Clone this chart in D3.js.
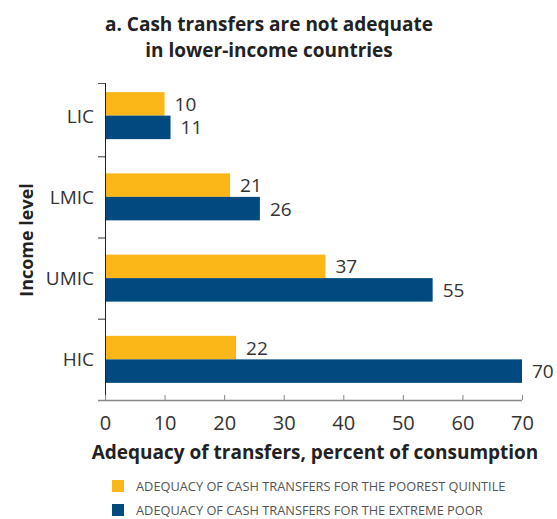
<!DOCTYPE html>
<html>
<head>
  <script src="https://cdn.jsdelivr.net/npm/d3@7"></script>
  <style>
    body { margin: 0; background: #fff; }
    text { font-family: "Open Sans", "Liberation Sans", sans-serif; }
  </style>
</head>
<body>
  <svg id="chart" width="557" height="519"></svg>
  <script>
  // data
  const categories = ['LIC', 'LMIC', 'UMIC', 'HIC'];
  const poorestQuintile = [10, 21, 37, 22];
  const extremePoor = [11, 26, 55, 70];
  const seriesNames = [
    'ADEQUACY OF CASH TRANSFERS FOR THE POOREST QUINTILE',
    'ADEQUACY OF CASH TRANSFERS FOR THE EXTREME POOR'
  ];
  const xTicks = [0, 10, 20, 30, 40, 50, 60, 70];

  const colors = ['#FBB618', '#004A80'];
  const svg = d3.select('#chart');

  const x = d3.scaleLinear().domain([0, 70]).range([105, 522]);
  const y = d3.scaleBand().domain(categories).range([75, 400]).paddingInner(0).paddingOuter(0);
  const barH = 23.5;

  // title
  svg.append('text').attr('x', 269).attr('y', 31).attr('text-anchor', 'middle')
    .attr('font-size', 19).attr('font-weight', 700).attr('fill', '#222')
    .text('a. Cash transfers are not adequate');
  svg.append('text').attr('x', 269).attr('y', 57).attr('text-anchor', 'middle')
    .attr('font-size', 19).attr('font-weight', 700).attr('fill', '#222')
    .text('in lower-income countries');

  // bars
  const rows = categories.map((c, i) => ({ c, vals: [poorestQuintile[i], extremePoor[i]] }));
  const g = svg.append('g');
  rows.forEach(r => {
    const mid = y(r.c) + y.bandwidth() / 2;
    r.vals.forEach((v, k) => {
      const top = mid - barH + k * barH;
      g.append('rect').attr('x', x(0)).attr('y', top)
        .attr('width', x(v) - x(0)).attr('height', barH).attr('fill', colors[k]);
      g.append('text').attr('x', x(v) + 10).attr('y', top + barH / 2 + 7)
        .attr('font-size', 19).attr('fill', '#333').text(v);
    });
    svg.append('text').attr('x', 94).attr('y', mid + 7).attr('text-anchor', 'end')
      .attr('font-size', 19).attr('fill', '#333').text(r.c);
  });

  // y axis
  svg.append('line').attr('x1', 105.5).attr('x2', 105.5).attr('y1', 83).attr('y2', 400)
    .attr('stroke', '#222').attr('stroke-width', 1);
  svg.append('line').attr('x1', 98).attr('x2', 105).attr('y1', 83.5).attr('y2', 83.5)
    .attr('stroke', '#555');
  categories.slice(1).forEach(c => {
    svg.append('line').attr('x1', 98).attr('x2', 105).attr('y1', y(c) + 0.5).attr('y2', y(c) + 0.5)
      .attr('stroke', '#777').attr('stroke-width', 1.5);
  });

  // x axis
  const xAxis = d3.axisBottom(x).tickValues(xTicks).tickSize(5).tickSizeOuter(0).tickPadding(6);
  const xg = svg.append('g').attr('transform', 'translate(0,400)').call(xAxis);
  xg.select('.domain').attr('d', 'M98,0.5H522').attr('stroke', '#888').attr('stroke-width', 1.5);
  xg.selectAll('.tick line').attr('stroke', '#888').attr('y1', -5).attr('y2', 0);
  xg.selectAll('.tick text').attr('font-size', 20).attr('fill', '#333')
    .attr('font-family', '"Open Sans", sans-serif').attr('dy', null).attr('y', 30);

  // axis titles
  svg.append('text').attr('x', 315).attr('y', 459).attr('text-anchor', 'middle')
    .attr('font-size', 19).attr('font-weight', 700).attr('fill', '#222')
    .text('Adequacy of transfers, percent of consumption');
  svg.append('text').attr('transform', 'translate(33,240) rotate(-90)').attr('text-anchor', 'middle')
    .attr('font-size', 18).attr('font-weight', 700).attr('fill', '#222')
    .text('Income level');

  // legend
  seriesNames.forEach((s, k) => {
    const cy = 486 + k * 24;
    svg.append('rect').attr('x', 112).attr('y', cy - 6).attr('width', 12).attr('height', 12)
      .attr('fill', colors[k]);
    svg.append('text').attr('x', 136).attr('y', cy + 5).attr('font-size', 12.8)
      .attr('fill', '#555').text(s);
  });
  </script>
</body>
</html>
